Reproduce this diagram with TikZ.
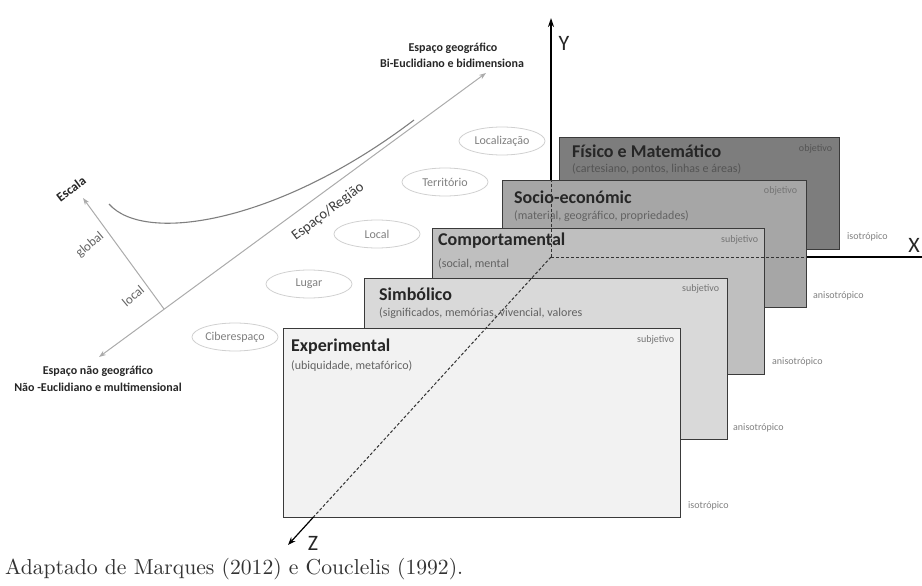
\documentclass[tikz,border=0pt]{standalone}
\usepackage{graphicx}
\usepackage{fontspec}
\setsansfont{Carlito}
\usetikzlibrary{arrows.meta,shapes.geometric}
\newcommand{\fsz}[1]{\fontsize{#1}{#1}\selectfont}
\definecolor{boxline}{HTML}{3A3A3A}
\definecolor{ttlc}{HTML}{262626}
\definecolor{subc}{HTML}{626262}
\definecolor{tagc}{HTML}{747474}
\definecolor{sidec}{HTML}{808080}
\definecolor{fistxt}{HTML}{545454}
\definecolor{ovalc}{HTML}{D0D0D0}
\definecolor{ovaltxt}{HTML}{7F7F7F}
\definecolor{arrowc}{HTML}{ABABAB}
\definecolor{curvec}{HTML}{7F7F7F}
\definecolor{fisf}{HTML}{7D7D7D}
\definecolor{socf}{HTML}{A6A6A6}
\definecolor{comf}{HTML}{BFBFBF}
\definecolor{simf}{HTML}{D9D9D9}
\definecolor{expf}{HTML}{F2F2F2}
\begin{document}
\begin{tikzpicture}[x=1pt,y=-1pt,font=\sffamily,
  box/.style={draw=boxline, line width=1.3pt, anchor=north west, inner sep=0pt},
  ttl/.style={anchor=west, inner sep=0pt, text=ttlc, font=\sffamily\bfseries\fsz{18}},
  sub/.style={anchor=west, inner sep=0pt, text=subc, font=\sffamily\fsz{12}},
  tag/.style={anchor=east, inner sep=0pt, text=tagc, font=\sffamily\fsz{10}},
  side/.style={anchor=west, inner sep=0pt, text=sidec, font=\sffamily\fsz{10}},
  oval/.style={ellipse, draw=ovalc, line width=0.8pt, minimum width=86pt, minimum height=28pt, text=ovaltxt, font=\sffamily\fsz{12}, inner sep=0pt},
  garrow/.style={draw=arrowc, line width=1pt},
  gtip/.style={-{Stealth[length=7pt,width=5pt]}},
  lbl/.style={inner sep=0pt, font=\sffamily\bfseries\fsz{12}, text=ttlc},
  axisline/.style={draw=black, line width=1.6pt},
  dashaxis/.style={draw=black!80, line width=1pt, dash pattern=on 3pt off 2pt},
  axlbl/.style={inner sep=0pt, font=\sffamily\fsz{22}, text=ttlc}
]
\useasboundingbox (0,0) rectangle (922,586);

% ---------- left part ----------
\coordinate (NGtip) at (99,357);
\coordinate (Gtip) at (486,73);
\coordinate (Junc) at (164,309);
\coordinate (Etip) at (83,198);
\draw[garrow,{Stealth[length=7pt,width=5pt]}-{Stealth[length=7pt,width=5pt]}] (NGtip) -- (Gtip);
\draw[garrow,gtip] (Junc) -- (Etip);
\draw[curvec, line width=1.1pt] (109,204) .. controls (145,245) and (280,222) .. (414,120);

\node[lbl] (g1) at (453,48) {Espaço geográfico};
\node[lbl] (g2) at (452,63) {Bi-Euclidiano e bidimensiona};
\node[lbl] (ng1) at (98,371) {Espaço não geográfico};
\node[lbl] (ng2) at (98,387) {Não -Euclidiano e multimensional};

\node[inner sep=0pt, rotate=37, font=\sffamily\bfseries\fsz{13}, text=ttlc] (esc) at (71,189) {Escala};
\node[inner sep=0pt, rotate=40, font=\sffamily\fsz{13}, text=subc] (glob) at (90,245) {global};
\node[inner sep=0pt, rotate=40, font=\sffamily\fsz{13}, text=subc] (loc) at (133,296) {local};
\node[inner sep=0pt, rotate=37, font=\sffamily\fsz{14.5}, text=ttlc!90] (er) at (328,212) {Espaço/Região};

\node[oval] (o1) at (502,141) {Localização};
\node[oval] (o2) at (445,182) {Território};
\node[oval] (o3) at (377,234) {Local};
\node[oval] (o4) at (309,284) {Lugar};
\node[oval] (o5) at (235,337) {Ciberespaço};

% ---------- axes coordinates ----------
\coordinate (O) at (551,257);
\coordinate (Ytop) at (551,18);
\coordinate (Xend) at (922,257);
\coordinate (Ztip) at (288,545);
\coordinate (Zmid) at (313.5,517);

% ---------- boxes ----------
\node[box, fill=fisf, minimum width=280pt, minimum height=112pt] (fis) at (559,137) {};
\node[ttl] (fisT) at ([shift={(13,14)}]fis.north west) {Físico e Matemático};
\node[sub, text=fistxt] (fisS) at ([shift={(13,32)}]fis.north west) {(cartesiano, pontos, linhas e áreas)};
\node[tag, text=fistxt] (fisO) at ([shift={(-8,12)}]fis.north east) {objetivo};
\node[side] (fisI) at (847,237) {isotrópico};

\draw[axisline,-{Stealth[length=9pt,width=6pt]}] (O |- 0,182) -- (Ytop);

\node[box, fill=socf, minimum width=304pt, minimum height=127pt] (soc) at (502,180) {};
\node[ttl] (socT) at ([shift={(12,17)}]soc.north west) {Socio-económic};
\node[sub] (socS) at ([shift={(12,36)}]soc.north west) {(material, geográfico, propriedades)};
\node[tag] (socO) at ([shift={(-10,11)}]soc.north east) {objetivo};
\node[side] (socI) at (813,296) {anisotrópico};

\draw[axisline] (O -| soc.east) -- (Xend);

\node[box, fill=comf, minimum width=332pt, minimum height=146pt] (com) at (432,228) {};
\node[ttl] (comT) at ([shift={(6,13)}]com.north west) {Comportamental};
\node[sub] (comS) at ([shift={(6,36)}]com.north west) {(social, mental};
\node[tag] (comO) at ([shift={(-7,12)}]com.north east) {subjetivo};
\node[side] (comI) at (772,362) {anisotrópico};

\node[box, fill=simf, minimum width=363pt, minimum height=161pt] (sim) at (364,278) {};
\node[ttl] (simT) at ([shift={(15,16)}]sim.north west) {Simbólico};
\node[sub] (simS) at ([shift={(15,35)}]sim.north west) {(significados, memórias, vivencial, valores};
\node[tag] (simO) at ([shift={(-9,11)}]sim.north east) {subjetivo};
\node[side] (simI) at (733,428) {anisotrópico};

\node[box, fill=expf, minimum width=397pt, minimum height=189pt] (exp) at (283,328) {};
\node[ttl] (expT) at ([shift={(8,19)}]exp.north west) {Experimental};
\node[sub] (expS) at ([shift={(8,38)}]exp.north west) {(ubiquidade, metafórico)};
\node[tag] (expO) at ([shift={(-7,12)}]exp.north east) {subjetivo};
\node[side] (expI) at (688,506) {isotrópico};

% ---------- hidden (dashed) axis parts over the boxes ----------
\draw[dashaxis] (O) -- (O |- soc.north);
\draw[dashaxis] (O) -- (O -| soc.east);
\draw[dashaxis] (O) -- (Zmid);
\draw[draw=black, line width=1.2pt,-{Stealth[length=8pt,width=6pt]}] (Zmid) -- (Ztip);

\node[axlbl] (Ylab) at (564,43) {Y};
\node[axlbl] (Xlab) at (914,245) {X};
\node[axlbl] (Zlab) at (313,543) {Z};

\node[anchor=base west, inner sep=0pt, text=black!80] (cap) at (5,574) {\resizebox{458pt}{!}{\rmfamily Adaptado de Marques (2012) e Couclelis (1992).}};
\end{tikzpicture}
\end{document}
